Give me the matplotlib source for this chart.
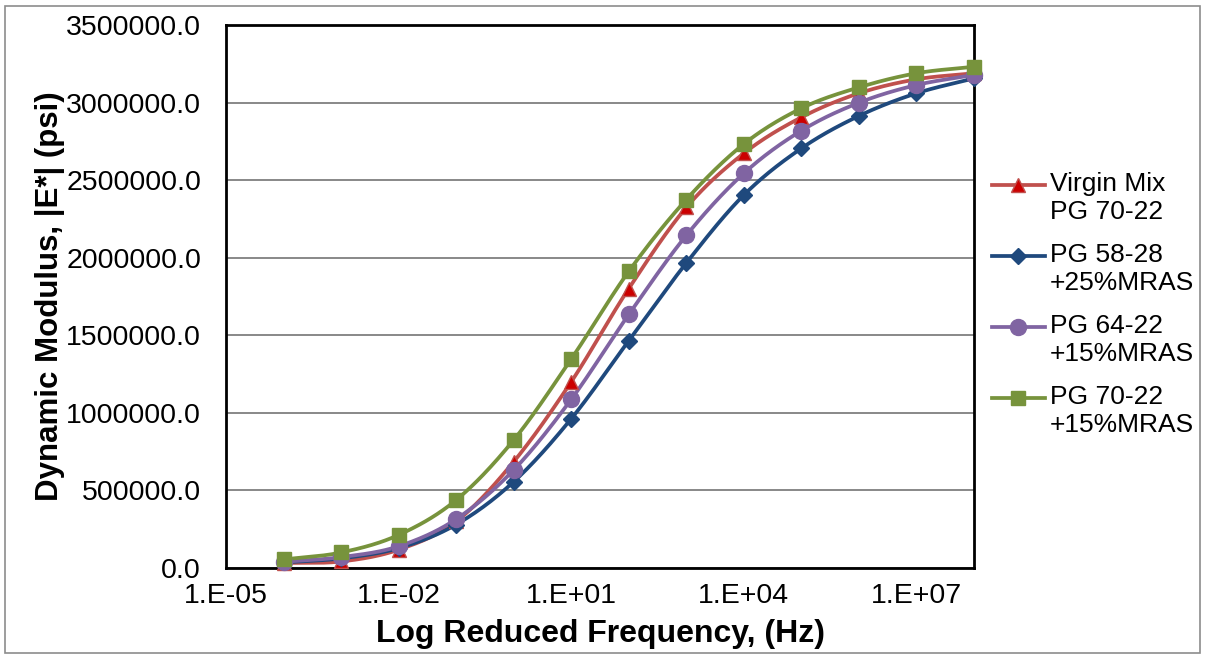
import numpy as np
import matplotlib.pyplot as plt
from matplotlib.lines import Line2D
from matplotlib.patches import Rectangle
from matplotlib.ticker import FixedLocator, FuncFormatter

plt.rcParams['font.family'] = ['Liberation Sans', 'DejaVu Sans']

# reduced frequency (Hz), one point per decade
freq = [1e-4, 1e-3, 1e-2, 1e-1, 1e0, 1e1, 1e2, 1e3, 1e4, 1e5, 1e6, 1e7, 1e8]

virgin_70_22 = [32000, 42000, 118000, 300000, 685000, 1200000, 1801000, 2324000,
                2673000, 2905000, 3060000, 3150000, 3189000]
pg58_28_25 = [36000, 62000, 128000, 280000, 556000, 962000, 1465000, 1966000,
              2404000, 2705000, 2914000, 3060000, 3156000]
pg64_22_15 = [40000, 70000, 140000, 315000, 632000, 1087000, 1634000, 2144000,
              2544000, 2819000, 2999000, 3113000, 3178000]
pg70_22_15 = [55000, 100000, 213000, 438000, 825000, 1347000, 1912000, 2375000,
              2733000, 2963000, 3098000, 3189000, 3231000]

labels = ['Virgin Mix\nPG 70-22', 'PG 58-28\n+25%MRAS', 'PG 64-22\n+15%MRAS', 'PG 70-22\n+15%MRAS']
series = [virgin_70_22, pg58_28_25, pg64_22_15, pg70_22_15]
line_colors = ['#C0504D', '#1F497D', '#8064A2', '#77933C']
face_colors = ['#CC0000', '#1F497D', '#8064A2', '#77933C']
markers = ['^', 'D', 'o', 's']
msizes = [10.5, 8.5, 11.5, 10.5]

xticks = [1e-5, 1e-2, 1e1, 1e4, 1e7]


def smooth(x, y, n=30):
    # catmull-rom through the points (in log x), like excel's smoothed line
    lx = np.log10(x)
    y = np.asarray(y, float)
    P = np.column_stack([lx, y])
    P = np.vstack([2 * P[0] - P[1], P, 2 * P[-1] - P[-2]])
    out = []
    t = np.linspace(0, 1, n, endpoint=False)[:, None]
    for i in range(1, len(P) - 2):
        p0, p1, p2, p3 = P[i - 1], P[i], P[i + 1], P[i + 2]
        seg = 0.5 * ((2 * p1) + (-p0 + p2) * t + (2 * p0 - 5 * p1 + 4 * p2 - p3) * t ** 2
                     + (-p0 + 3 * p1 - 3 * p2 + p3) * t ** 3)
        out.append(seg)
    out.append(P[-2][None, :])
    out = np.vstack(out)
    return 10 ** out[:, 0], out[:, 1]


fig = plt.figure(figsize=(12.07, 6.58), dpi=100)
ax = fig.add_axes([226 / 1207, 90 / 658, (974 - 226) / 1207, (568 - 25) / 658])

for vals, lc, fc, m, ms in zip(series, line_colors, face_colors, markers, msizes):
    sx, sy = smooth(freq, vals)
    ax.plot(sx, sy, color=lc, lw=2.7, zorder=3)
    ax.plot(freq, vals, ls='none', marker=m, ms=ms, mfc=fc, mec=lc, mew=1, zorder=4,
            clip_on=False)

ax.set_xscale('log')
ax.set_xlim(1e-5, 1e8)
ax.set_ylim(0, 3500000)
ax.xaxis.set_major_locator(FixedLocator(xticks))
ax.xaxis.set_minor_locator(FixedLocator([]))
ax.xaxis.set_major_formatter(FuncFormatter(lambda v, p: '1.E%+03d' % int(round(np.log10(v)))))
ax.set_yticks(np.arange(0, 3500001, 500000))
ax.yaxis.set_major_formatter(FuncFormatter(lambda v, p: '%.1f' % v))
ax.tick_params(length=0, labelsize=20.5)
ax.tick_params(axis='y', pad=18)
ax.tick_params(axis='x', pad=11)
ax.grid(axis='y', color='#7F7F7F', lw=1.3)
ax.set_axisbelow(True)
for s in ax.spines.values():
    s.set_linewidth(2)
    s.set_color('black')

ax.set_xlabel('Log Reduced Frequency, (Hz)', fontsize=23, fontweight='bold', labelpad=7)
ax.set_ylabel('Dynamic Modulus, |E*| (psi)', fontsize=22.5, fontweight='bold', labelpad=1)

# legend drawn by hand so the symbol sits on the first text line
leg_y = [185, 256, 327, 398]
for yy, lab, lc, fc, m, ms in zip(leg_y, labels, line_colors, face_colors, markers, msizes):
    yf = 1 - yy / 658
    fig.add_artist(Line2D([992 / 1207, 1045 / 1207], [yf, yf], transform=fig.transFigure,
                          color=lc, lw=2.7))
    fig.add_artist(Line2D([1018 / 1207], [yf], transform=fig.transFigure, ls='none',
                          marker=m, ms=ms, mfc=fc, mec=lc, mew=1))
    fig.text(1050 / 1207, yf + 13 / 658, lab, fontsize=19, va='top', ha='left',
             linespacing=1.2)

fig.add_artist(Rectangle((5 / 1207, 5 / 658), 1195 / 1207, 647 / 658, transform=fig.transFigure,
                         fill=False, edgecolor='#8C8C8C', lw=1.2))

fig.savefig('out.png', dpi=100)
